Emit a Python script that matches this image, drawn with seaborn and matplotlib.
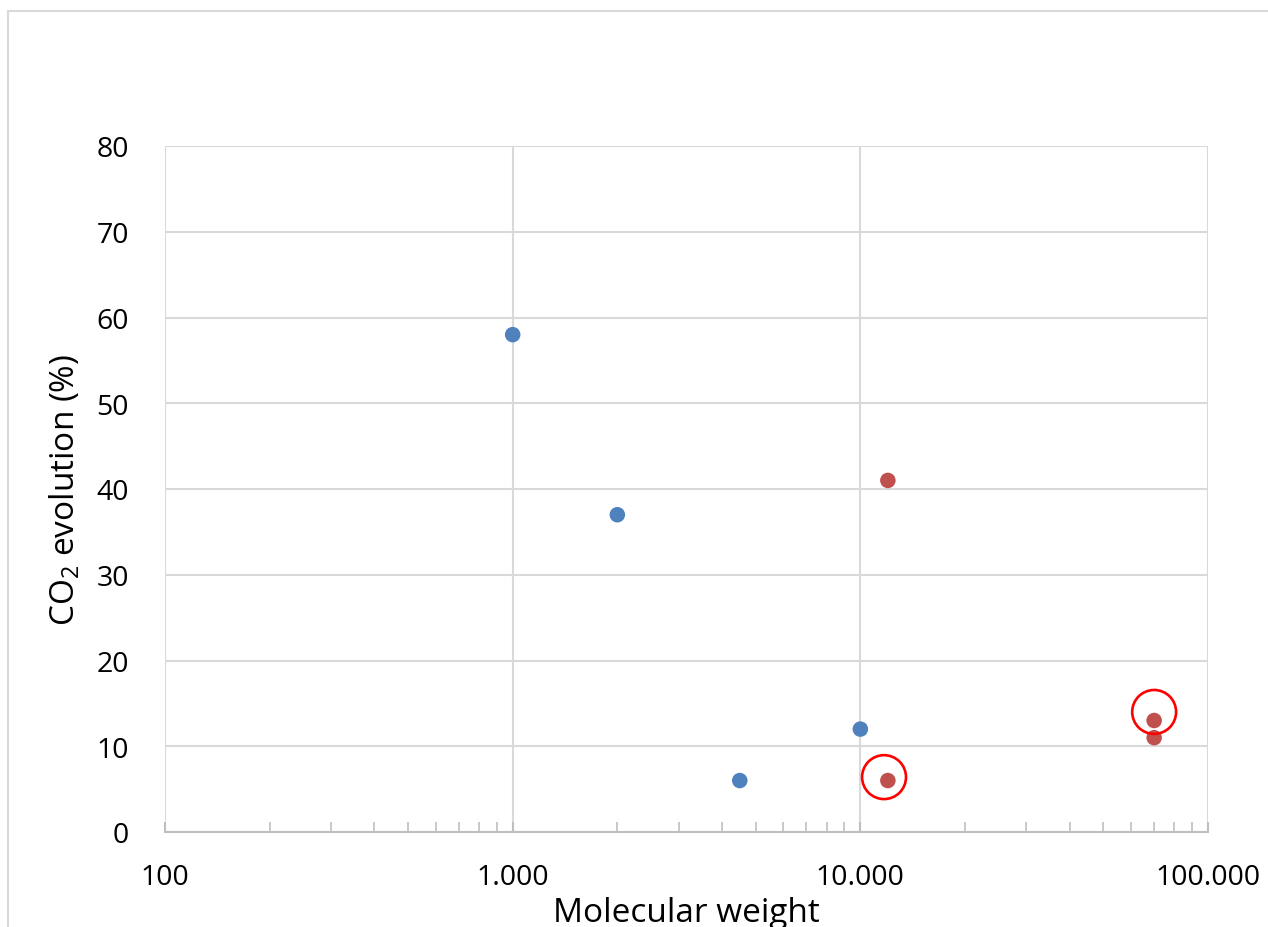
import matplotlib
matplotlib.use("Agg")
import matplotlib.pyplot as plt
import matplotlib.ticker as mticker
from matplotlib.patches import Rectangle
import seaborn as sns
import pandas as pd

# ---- data ----
blue_mw = [1000, 2000, 4500, 10000]
blue_co2 = [58, 37, 6, 12]
red_mw = [12000, 12000, 70000, 70000]
red_co2 = [41, 6, 13, 11]
circle_mw = [11700, 70000]
circle_co2 = [6.4, 14]
x_ticks = [100, 1000, 10000, 100000]
y_ticks = [0, 10, 20, 30, 40, 50, 60, 70, 80]

df = pd.DataFrame({
    "mw": blue_mw + red_mw,
    "co2": blue_co2 + red_co2,
    "group": ["blue"] * len(blue_mw) + ["red"] * len(red_mw),
})

sns.set_theme(style="white")
plt.rcParams["font.family"] = ["Open Sans", "DejaVu Sans"]
plt.rcParams["mathtext.fontset"] = "custom"
plt.rcParams["mathtext.rm"] = "Open Sans"
plt.rcParams["mathtext.it"] = "Open Sans"

fig = plt.figure(figsize=(12.68, 9.28), dpi=100)
ax = fig.add_axes([165 / 1268, 1 - 833 / 928, (1208 - 165) / 1268, (833 - 147) / 928])

grid_c = "#D9D9D9"
ax.set_xscale("log")
ax.set_xlim(100, 100000)
ax.set_ylim(0, 80)
ax.set_xticks(x_ticks)
ax.set_yticks(y_ticks)
ax.xaxis.set_major_formatter(mticker.FuncFormatter(lambda v, p: f"{int(round(v)):,}".replace(",", ".")))
ax.xaxis.set_minor_locator(mticker.LogLocator(base=10, subs=range(2, 10)))
ax.xaxis.set_minor_formatter(mticker.NullFormatter())
ax.grid(True, which="major", color=grid_c, linewidth=1.5)
ax.set_axisbelow(True)

sns.scatterplot(data=df, x="mw", y="co2", hue="group",
                palette={"blue": "#4F81BD", "red": "#C0504D"},
                s=125, edgecolor="none", legend=False, ax=ax, zorder=3)
ax.scatter(circle_mw, circle_co2, s=1000, facecolors="none", edgecolors="#FF0000",
           linewidths=1.9, zorder=4)

for side in ["top", "right", "left"]:
    ax.spines[side].set_visible(False)
ax.spines["bottom"].set_color("#BFBFBF")
ax.spines["bottom"].set_linewidth(1.5)

ax.tick_params(axis="x", which="major", bottom=True, direction="in", length=7, width=1.5,
               color="#BFBFBF", labelsize=20.5, pad=22, labelcolor="black")
ax.tick_params(axis="x", which="minor", bottom=True, direction="in", length=7, width=1.2,
               color="#BFBFBF")
ax.tick_params(axis="y", left=False, length=0, labelsize=20.5, pad=26, labelcolor="black")

ax.set_xlabel("Molecular weight", fontsize=24, color="black", labelpad=4)
ax.set_ylabel("CO$_2$ evolution (%)", fontsize=24, color="black", labelpad=10)

fig.patches.append(Rectangle((8 / 1268, -0.1), 1.2, 1.1 - 12 / 928,
                             transform=fig.transFigure, fill=False,
                             edgecolor=grid_c, linewidth=1.5))

fig.savefig("out.png", dpi=100)
